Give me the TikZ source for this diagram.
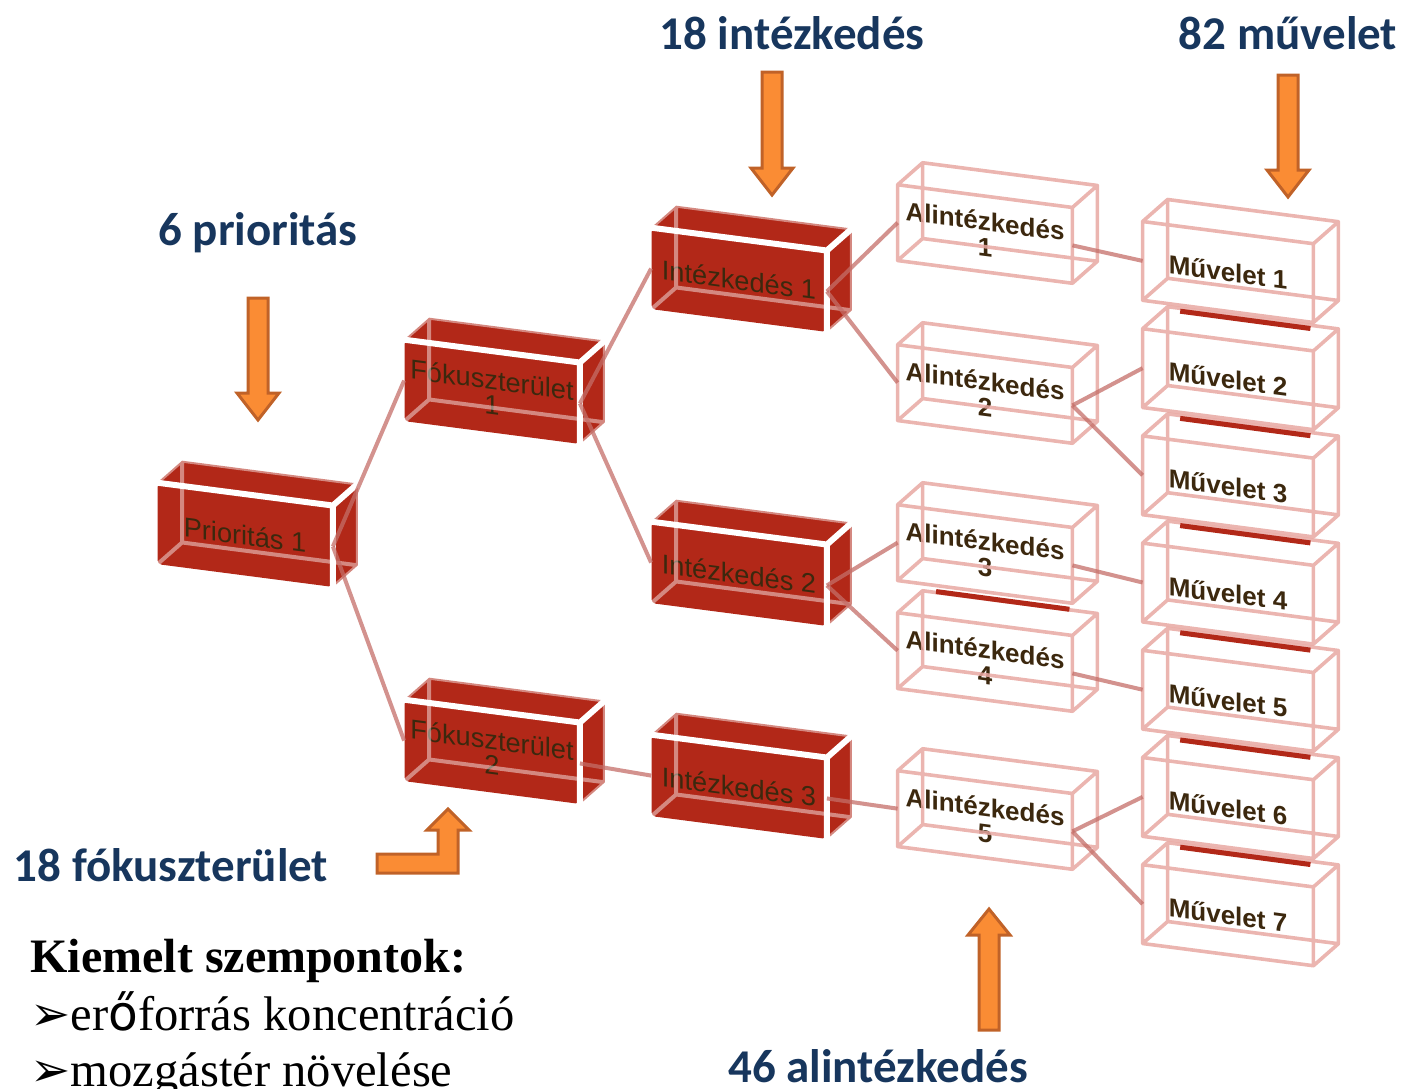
\documentclass[tikz,border=0pt]{standalone}
\usepackage{fontspec}
\setmainfont{Liberation Serif}
\newfontfamily\labelfont{Carlito}
\newfontfamily\boxfont{Liberation Sans}
\newfontfamily\symfont{DejaVu Sans}
\usetikzlibrary{calc}
\definecolor{boxred}{RGB}{178,40,24}
\definecolor{boxtext}{RGB}{60,40,14}
\definecolor{ghost}{RGB}{232,168,162}
\definecolor{linkred}{RGB}{196,110,104}
\definecolor{navy}{RGB}{23,54,93}
\definecolor{orfill}{RGB}{250,140,52}
\definecolor{ordraw}{RGB}{192,98,40}
\tikzset{
  cube/.style={yslant=-0.13, inner sep=0pt, align=center, rounded corners=2pt},
  redcube/.style={cube, minimum width=87.5pt, minimum height=40.5pt, fill=boxred, text=boxtext,
    font=\boxfont\fontsize{13.6}{12.5}\selectfont},
  ghostcube/.style={cube, minimum width=87pt, minimum height=37.5pt, text=boxtext,
    font=\boxfont\bfseries\fontsize{13}{13}\selectfont},
  opcube/.style={ghostcube, minimum width=85pt, minimum height=39pt},
  frontedge/.style={white, line width=3pt, line join=round, line cap=round},
  backedge/.style={white, opacity=0.45, line width=2pt, line join=round},
  ghostedge/.style={ghost, opacity=0.85, line width=1.8pt, line join=round, line cap=round},
  link/.style={linkred, opacity=0.75, line width=2pt},
  bigarrow/.style={fill=orfill, draw=ordraw, line width=1.5pt, line join=miter},
  count/.style={text=navy, font=\labelfont\bfseries\fontsize{23.5}{28}\selectfont}
}
\begin{document}
\begin{tikzpicture}[x=0.5pt,y=-0.5pt]
\useasboundingbox (0,0) rectangle (1406,1088);
% red boxes
\node[redcube] (prio) at (245,535) {Prioritás 1};
\node[redcube] (fok1) at (492,392) {Fókuszterület\\1};
\node[redcube] (fok2) at (492,752) {Fókuszterület\\2};
\node[redcube] (int1) at (739,280) {Intézkedés 1};
\node[redcube] (int2) at (739,574) {Intézkedés 2};
\node[redcube] (int3) at (739,787) {Intézkedés 3};
\foreach \n in {prio,fok1,fok2,int1,int2,int3}{
  \coordinate (a) at (\n.north west); \coordinate (b) at (\n.north east);
  \coordinate (c) at (\n.south east); \coordinate (d) at (\n.south west);
  \coordinate (a2) at ($(a)+(25,-22)$); \coordinate (b2) at ($(b)+(25,-22)$);
  \coordinate (c2) at ($(c)+(25,-22)$); \coordinate (d2) at ($(d)+(25,-22)$);
  \fill[boxred] (a) -- (a2) -- (b2) -- (c2) -- (c) -- (b) -- cycle;
  \draw[backedge] (d) -- (d2) -- (c2) (d2) -- (a2) -- (b2) -- (c2) -- (c) (a) -- (a2);
  \draw[frontedge] (a) -- (b) -- (c) (b) -- (b2);
}
% transparent boxes
\node[ghostcube] (al1) at (985,234) {Alintézkedés\\1};
\node[ghostcube] (al2) at (985,394) {Alintézkedés\\2};
\node[ghostcube] (al3) at (985,554) {Alintézkedés\\3};
\node[ghostcube] (al4) at (985,662) {Alintézkedés\\4};
\node[ghostcube] (al5) at (985,820) {Alintézkedés\\5};
\foreach \k in {1,...,7}
  \node[opcube] (mu\k) at (1228,{272+107.2*(\k-1)}) {Művelet \k};
\foreach \n in {al1,al2,al3,al4,al5,mu1,mu2,mu3,mu4,mu5,mu6,mu7}{
  \coordinate (a) at (\n.north west); \coordinate (b) at (\n.north east);
  \coordinate (c) at (\n.south east); \coordinate (d) at (\n.south west);
  \coordinate (a2) at ($(a)+(25,-22)$); \coordinate (b2) at ($(b)+(25,-22)$);
  \coordinate (c2) at ($(c)+(25,-22)$); \coordinate (d2) at ($(d)+(25,-22)$);
  \draw[ghostedge] (a) -- (b) -- (c) -- (d) -- cycle (a) -- (a2) -- (b2) -- (c2) -- (c)
    (b) -- (b2) (d) -- (d2) -- (a2) (d2) -- (c2);
}
\foreach \n in {al3,mu1,mu2,mu3,mu4,mu5,mu6}
  \draw[boxred, line width=2.5pt] ($(\n.south west)!0.22!(\n.south east)+(0,6)$) -- ($(\n.south east)+(-3,6)$);
% connectors
\foreach \a/\b in {prio/fok1,prio/fok2,fok1/int1,fok1/int2,fok2/int3,int1/al1,int1/al2,
  int2/al3,int2/al4,int3/al5,al1/mu1,al2/mu2,al2/mu3,al3/mu4,al4/mu5,al5/mu6,al5/mu7}
  \draw[link] (\a.east) -- (\b.west);
% orange arrows
\foreach \x/\a/\b in {258/298/420,772/72/195,1288/75/197}
  \draw[bigarrow] (\x-10,\a) -- (\x+10,\a) -- (\x+10,\b-27) -- (\x+21,\b-27) -- (\x,\b)
    -- (\x-21,\b-27) -- (\x-10,\b-27) -- cycle;
\draw[bigarrow] (979,1030) -- (999,1030) -- (999,935) -- (1010,935) -- (989,909)
  -- (968,935) -- (979,935) -- cycle;
\draw[bigarrow] (377,854) -- (438,854) -- (438,830) -- (427,830) -- (448,809)
  -- (469,830) -- (458,830) -- (458,873) -- (377,873) -- cycle;
% counts
\node[count] (nprio) at (258,233) {6 prioritás};
\node[count] (nint) at (792,33) {18 intézkedés};
\node[count] (nmu) at (1288,33) {82 művelet};
\node[count] (nfok) at (171,865) {18 fókuszterület};
\node[count] (nal) at (878,1066) {46 alintézkedés};
% key points
\node[anchor=base west, inner sep=0pt, font=\bfseries\fontsize{24}{28}\selectfont] (kiem) at (30,972) {Kiemelt szempontok:};
\node[anchor=base west, inner sep=0pt, font=\fontsize{24.3}{28}\selectfont] (pt1) at (30,1030) {{\symfont\fontsize{24}{24}\selectfont ➢}er{\symfont ő}forrás koncentráció};
\node[anchor=base west, inner sep=0pt, font=\fontsize{24.3}{28}\selectfont] (pt2) at (30,1086) {{\symfont\fontsize{24}{24}\selectfont ➢}mozgástér növelése};
\end{tikzpicture}
\end{document}
